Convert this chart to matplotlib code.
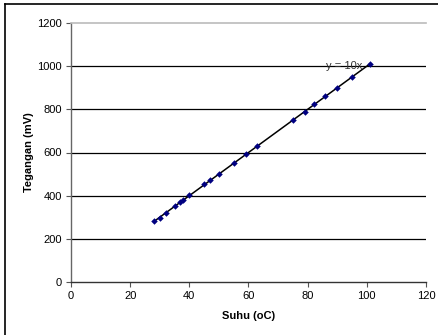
import numpy as np
import matplotlib.pyplot as plt
from matplotlib.lines import Line2D

plt.rcParams['font.family'] = ['Liberation Sans', 'DejaVu Sans']

# data
suhu = [28, 30, 32, 35, 37, 38, 40, 45, 47, 50, 55, 59, 63, 75, 79, 82, 86, 90, 95, 101]
tegangan = [282, 298, 320, 352, 372, 380, 402, 452, 472, 500, 552, 592, 630,
            751, 789, 824, 862, 900, 951, 1012]
xticks = [0, 20, 40, 60, 80, 100, 120]
yticks = [0, 200, 400, 600, 800, 1000, 1200]

fig = plt.figure(figsize=(4.39, 3.35), dpi=100)
ax = fig.add_axes([71/439, 1-282/335, (426-71)/439, (282-23)/335])

# horizontal gridlines
for yv in yticks[1:-1]:
    ax.axhline(yv, color='black', lw=0.9, zorder=1)

# trendline through origin, slope 10
xs = np.array([min(suhu), max(suhu)])
ax.plot(xs, 10*xs, color='black', lw=1.1, zorder=2)
ax.scatter(suhu, tegangan, marker='D', s=11, color='#000080', zorder=3, linewidths=0)
ax.text(98.5, 1000, 'y = 10x', fontsize=8, color='#333333',
        ha='right', va='center', zorder=4)

ax.set_xlim(0, 120)
ax.set_ylim(0, 1200)
ax.set_xticks(xticks)
ax.set_yticks(yticks)
ax.tick_params(axis='both', direction='out', length=3.5, width=0.8,
               color='#555555', labelsize=8, pad=3)
ax.spines['right'].set_visible(False)
ax.spines['top'].set_color('#bbbbbb')
ax.spines['top'].set_linewidth(1.2)
ax.spines['left'].set_color('#666666')
ax.spines['bottom'].set_color('#333333')
ax.spines['left'].set_linewidth(1.0)
ax.spines['bottom'].set_linewidth(1.0)

ax.set_xlabel('Suhu (oC)', fontsize=8, fontweight='bold', labelpad=7)
ax.set_ylabel('Tegangan (mV)', fontsize=8, fontweight='bold', labelpad=2)

# outer chart frame (only top and left visible)
fig.add_artist(Line2D([5/439, 5/439], [0, 1-3.5/335], color='black', lw=1.2,
                      transform=fig.transFigure))
fig.add_artist(Line2D([5/439, 1], [1-3.5/335, 1-3.5/335], color='black', lw=1.2,
                      transform=fig.transFigure))

fig.savefig('out.png', dpi=100)
